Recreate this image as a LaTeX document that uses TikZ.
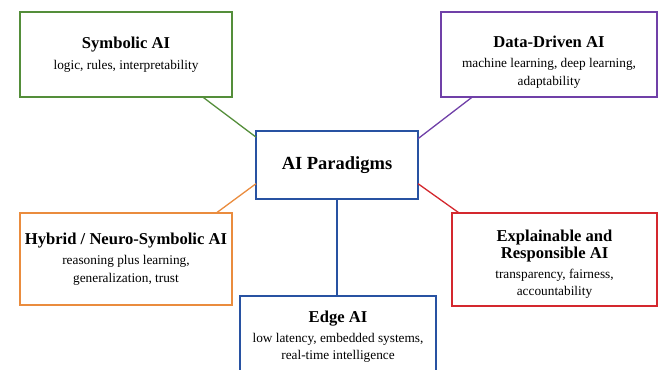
\documentclass[tikz,border=0pt]{standalone}
\usepackage{fontspec}
\setmainfont{Liberation Serif}
\definecolor{symgreen}{RGB}{84,142,58}
\definecolor{datapurple}{RGB}{112,64,168}
\definecolor{hubblue}{RGB}{40,82,162}
\definecolor{hyborange}{RGB}{234,140,62}
\definecolor{explred}{RGB}{212,40,46}
\newcommand{\ttlfont}{\fontsize{16.6}{19.5}\selectfont\bfseries}
\newcommand{\subfont}{\fontsize{13.3}{17.5}\selectfont}
\newcommand{\pushdown}[1]{\rule{0pt}{#1}}
\begin{document}
\begin{tikzpicture}[x=1pt,y=-1pt,
	box/.style={draw=#1,line width=1.2pt,fill=white,align=center,font=\subfont,inner sep=0pt,outer sep=0pt},
	link/.style={draw=#1,line width=1.3pt}]
\useasboundingbox (0,0) rectangle (660,369);
\clip (0,0) rectangle (660,369);

\node[box=hubblue,minimum width=162,minimum height=68,font=\fontsize{18.5}{22}\selectfont\bfseries] (hub) at (337,165)
	{AI Paradigms};

\node[box=symgreen,minimum width=212,minimum height=85] (sym) at (126,54.5)
	{\ttlfont Symbolic AI\\[4pt]logic, rules, interpretability};
\node[box=datapurple,minimum width=216,minimum height=85] (data) at (549,54.5)
	{\ttlfont\pushdown{26pt}Data-Driven AI\\[3pt]machine learning, deep learning,\\adaptability};
\node[box=hyborange,minimum width=212,minimum height=92] (hyb) at (126,259)
	{\ttlfont Hybrid / Neuro-Symbolic AI\\[3pt]reasoning plus learning,\\generalization, trust};
\node[box=explred,minimum width=205,minimum height=93] (expl) at (554.5,259.5)
	{\ttlfont\pushdown{21pt}Explainable and\\\ttlfont Responsible AI\\[2pt]transparency, fairness,\\accountability};
\node[box=hubblue,minimum width=196,anchor=north,inner ysep=15pt,text depth=40pt] (edge) at (338,296)
	{\ttlfont Edge AI\\[2pt]low latency, embedded systems,\\real-time intelligence};

% spokes out of the hub
\foreach \n/\a/\b/\c in {sym/-29/161.6/symgreen,data/-151/18.4/datapurple,
	hyb/27/193.9/hyborange,expl/154.5/-13.9/explred}
{
	\draw[link=\c] (\n.\a) -- (hub.\b);
}
\draw[link=hubblue] (hub.south) -- (hub.south |- edge.north);

\end{tikzpicture}
\end{document}
